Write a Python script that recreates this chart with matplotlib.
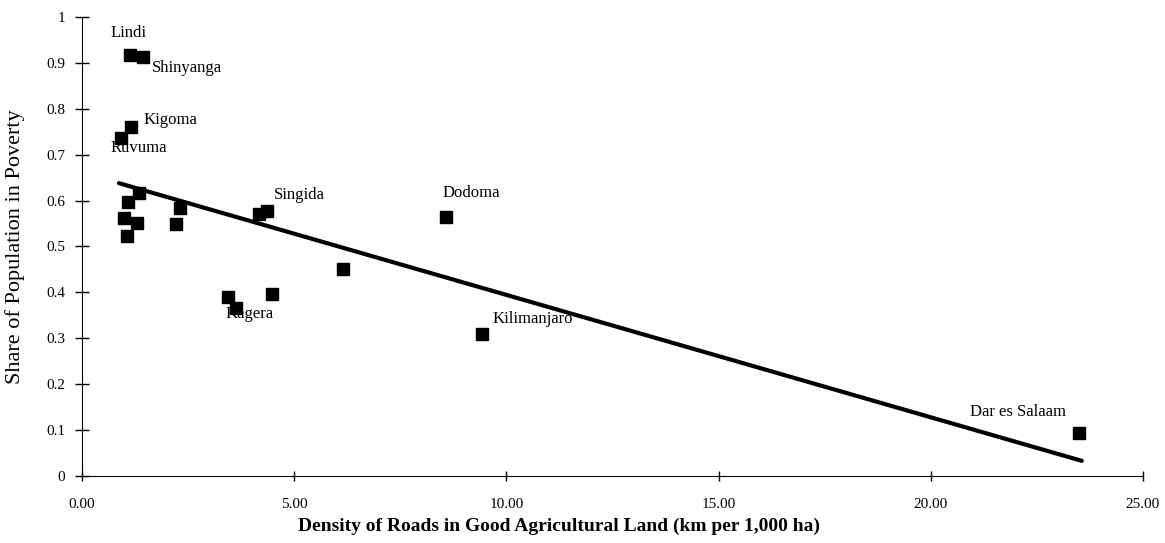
import matplotlib.pyplot as plt

plt.rcParams['font.family'] = ['Liberation Serif', 'DejaVu Serif']

# road density (km per 1,000 ha) and poverty share for each region
road_density = [1.13, 1.44, 1.15, 0.92, 1.34, 1.08, 0.99, 1.30, 1.06, 2.31, 2.21,
                4.17, 4.36, 6.15, 3.44, 3.63, 4.48, 8.58, 9.42, 23.5]
poverty_share = [0.917, 0.913, 0.760, 0.736, 0.617, 0.597, 0.562, 0.551, 0.523, 0.584, 0.549,
                 0.571, 0.577, 0.451, 0.390, 0.366, 0.397, 0.564, 0.309, 0.094]

# fitted trend line end points
trend_x = [0.87, 23.56]
trend_y = [0.638, 0.033]

# region labels and where they sit
label_names = ['Lindi', 'Shinyanga', 'Kigoma', 'Ruvuma', 'Singida', 'Kagera',
               'Dodoma', 'Kilimanjaro', 'Dar es Salaam']
label_x = [0.66, 1.65, 1.44, 0.66, 4.52, 3.37, 8.50, 9.68, 20.92]
label_y = [0.965, 0.888, 0.776, 0.715, 0.612, 0.353, 0.617, 0.342, 0.139]

x_ticks = [0, 5, 10, 15, 20, 25]
x_tick_labels = ['0.00', '5.00', '10.00', '15.00', '20.00', '25.00']
y_ticks = [0, 0.1, 0.2, 0.3, 0.4, 0.5, 0.6, 0.7, 0.8, 0.9, 1]
y_tick_labels = ['0', '0.1', '0.2', '0.3', '0.4', '0.5', '0.6', '0.7', '0.8', '0.9', '1']

fig = plt.figure(figsize=(11.65, 5.43), dpi=100)
ax = fig.add_axes([0.0704, 0.1234, 0.9106, 0.8453])

ax.plot(trend_x, trend_y, color='black', lw=3, solid_capstyle='round')
ax.plot(road_density, poverty_share, 's', color='black', markersize=8, linestyle='none')

for name, lx, ly in zip(label_names, label_x, label_y):
    ax.text(lx, ly, name, fontsize=12, ha='left', va='center')

ax.set_xlim(0, 25)
ax.set_ylim(0, 1)
ax.set_xticks(x_ticks)
ax.set_xticklabels(x_tick_labels)
ax.set_yticks(y_ticks)
ax.set_yticklabels(y_tick_labels)
ax.tick_params(direction='inout', width=1, labelsize=11)
ax.tick_params(axis='y', length=10, pad=7)
ax.tick_params(axis='x', length=7, pad=12)

for side in ['top', 'right']:
    ax.spines[side].set_visible(False)

ax.set_xlabel('Density of Roads in Good Agricultural Land (km per 1,000 ha)',
              fontsize=14, fontweight='bold')
ax.xaxis.set_label_coords(0.45, -0.09)
ax.set_ylabel('Share of Population in Poverty', fontsize=16)
ax.yaxis.set_label_coords(-0.054, 0.5)

fig.savefig('out.png', dpi=100)
